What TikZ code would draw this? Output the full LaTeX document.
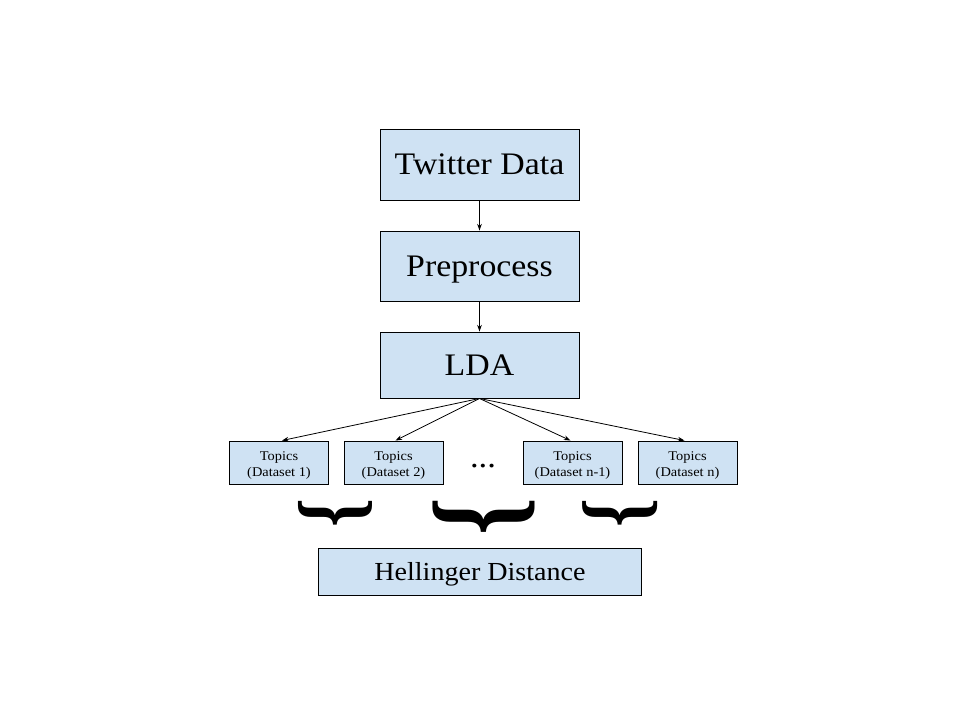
\documentclass[tikz,border=0pt]{standalone}
\usepackage{fontspec}
\setmainfont[FakeStretch=1.08]{Liberation Serif}
\usepackage{graphicx}
\usetikzlibrary{arrows.meta}
\definecolor{boxblue}{HTML}{CFE2F3}
\begin{document}
\begin{tikzpicture}[x=0.75pt,y=-0.75pt,
  bigbox/.style={draw=black,fill=boxblue,line width=0.7pt,minimum width=199*0.75pt,inner sep=0pt,text height=15.6pt,text depth=0pt,font=\fontsize{23.5}{26}\selectfont},
  smallbox/.style={draw=black,fill=boxblue,line width=0.7pt,minimum width=99*0.75pt,minimum height=43*0.75pt,inner sep=0pt},
  smalltext/.style={inner sep=0pt,align=center,font=\fontsize{10}{12.5}\selectfont},
  conn/.style={-{Stealth[length=5pt,width=3.5pt]},line width=0.6pt}]
\useasboundingbox (0,0) rectangle (960,720);
\node[bigbox,minimum height=71*0.75pt] (tw) at (479.5,164.5) {Twitter Data};
\node[bigbox,minimum height=70*0.75pt] (pre) at (479.5,266) {Preprocess};
\node[bigbox,minimum height=66*0.75pt] (lda) at (479.5,365) {LDA};
\node[smallbox] (t1) at (279,462.5) {};
\node[smallbox] (t2) at (393.5,462.5) {};
\node[smallbox] (t3) at (572.5,462.5) {};
\node[smallbox] (t4) at (687.5,462.5) {};
\node[smalltext] (l1) at ([yshift=-3*0.75pt]t1.center) {Topics\\(Dataset 1)};
\node[smalltext] (l2) at ([yshift=-3*0.75pt]t2.center) {Topics\\(Dataset 2)};
\node[smalltext] (l3) at ([yshift=-3*0.75pt]t3.center) {Topics\\(Dataset n-1)};
\node[smalltext] (l4) at ([yshift=-3*0.75pt]t4.center) {Topics\\(Dataset n)};
\node[font=\fontsize{24}{26}\selectfont,inner sep=0pt,anchor=base] (dots) at (483,467) {...};
\node[draw=black,fill=boxblue,line width=0.7pt,minimum width=323*0.75pt,minimum height=47*0.75pt,inner sep=0pt,text height=12.9pt,text depth=0pt,font=\fontsize{19.5}{22}\selectfont] (hd) at (480,571.5) {Hellinger Distance};
\draw[conn] (tw.south) -- (pre.north);
\draw[conn] (pre.south) -- (lda.north);
\draw[conn] (lda.south) -- ([xshift=3*0.75pt]t1.north);
\draw[conn] (lda.south) -- ([xshift=2*0.75pt]t2.north);
\draw[conn] (lda.south) -- ([xshift=-2*0.75pt]t3.north);
\draw[conn] (lda.south) -- ([xshift=-3*0.75pt]t4.north);
\node[inner sep=0pt] (br1) at (335,512.5) {\resizebox{74\dimexpr0.75pt\relax}{29\dimexpr0.75pt\relax}{\rotatebox{90}{\bfseries\{}}};
\node[inner sep=0pt] (br2) at (484,516) {\resizebox{102\dimexpr0.75pt\relax}{38\dimexpr0.75pt\relax}{\rotatebox{90}{\bfseries\{}}};
\node[inner sep=0pt] (br3) at (620.5,512.5) {\resizebox{75\dimexpr0.75pt\relax}{29\dimexpr0.75pt\relax}{\rotatebox{90}{\bfseries\{}}};
\end{tikzpicture}
\end{document}
